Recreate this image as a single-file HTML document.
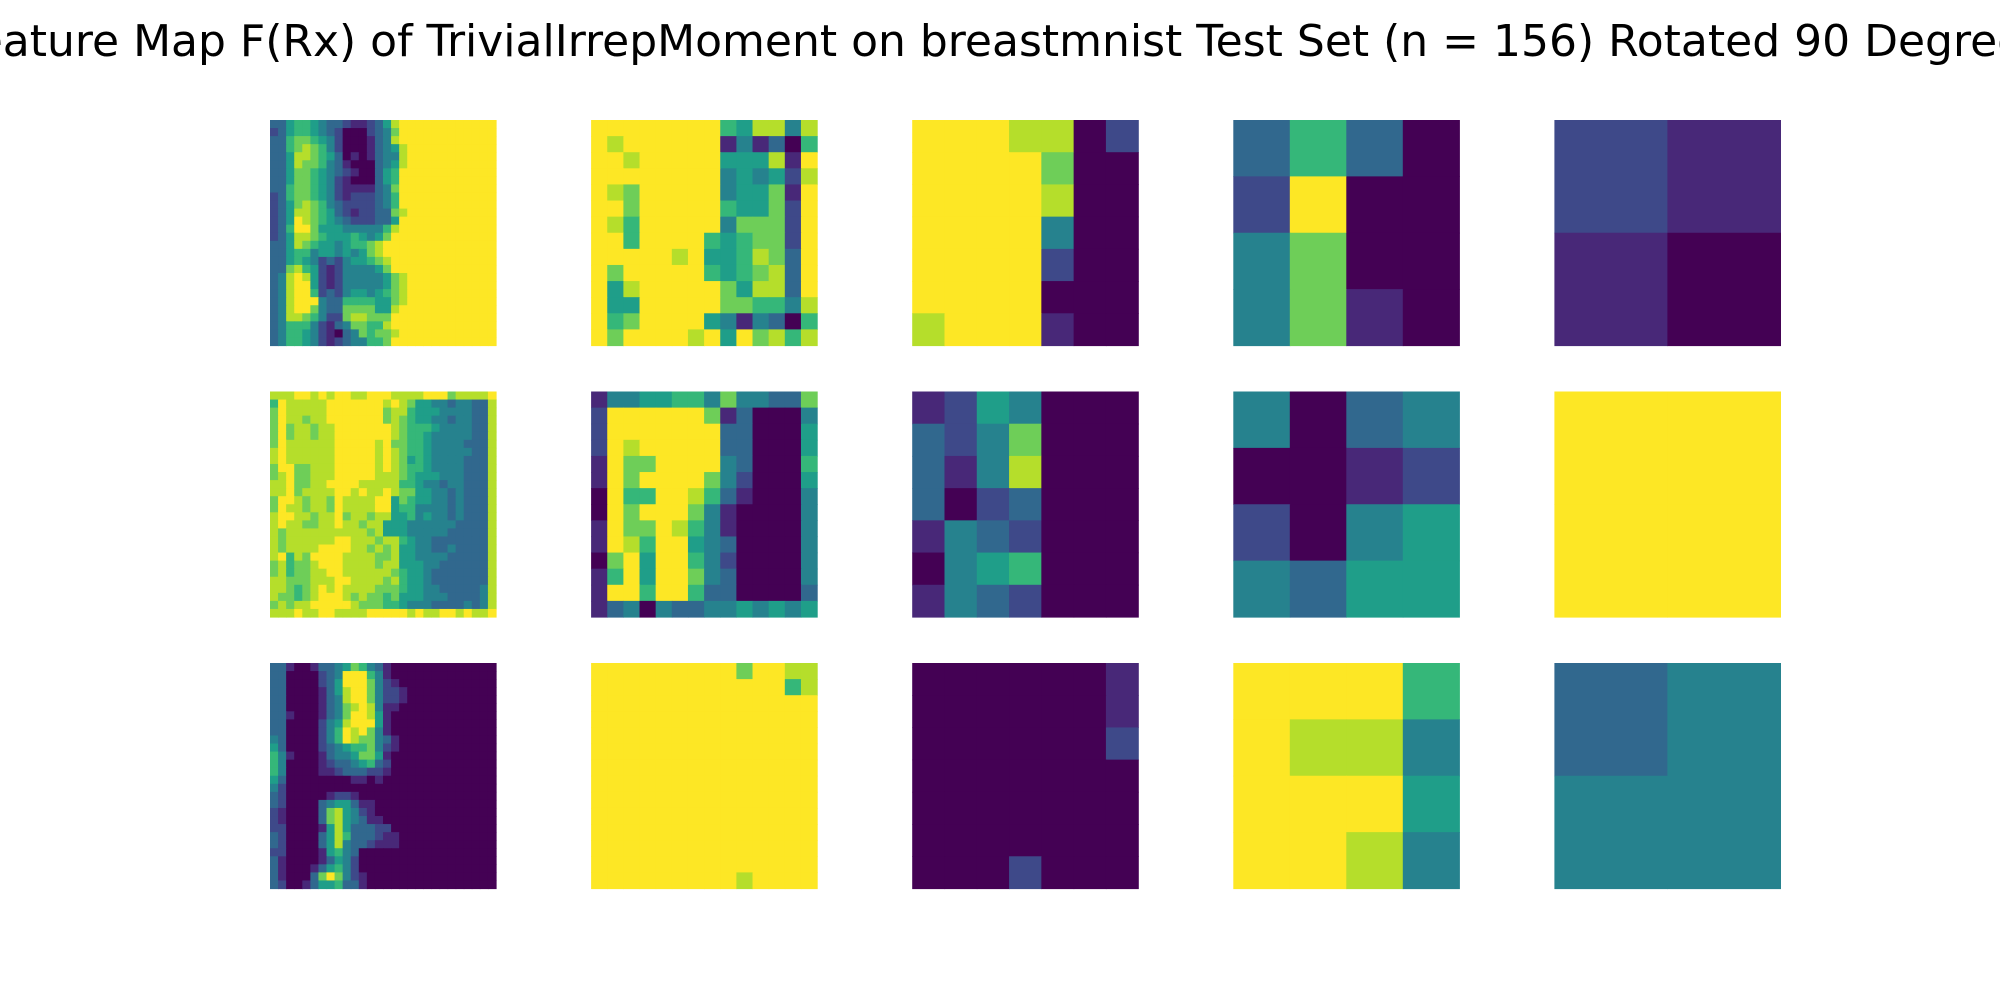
<!DOCTYPE html>
<html><head><meta charset="utf-8"><style>
html,body{margin:0;padding:0;background:#fff;width:2000px;height:1000px;overflow:hidden}
svg{display:block}
</style></head><body>
<svg id="fig" width="2000" height="1000" viewBox="0 0 2000 1000" xmlns="http://www.w3.org/2000/svg">
<rect width="2000" height="1000" fill="#fff"/>
<text x="1000" y="56" text-anchor="middle" font-family="DejaVu Sans, Liberation Sans, sans-serif" font-size="44" fill="#000">Feature Map F(Rx) of TrivialIrrepMoment on breastmnist Test Set (n = 156) Rotated 90 Degrees</text>
<g id="panels"></g>
</svg>
<script>
// Cell values on a 0..9 scale (viridis), row strings per panel
const p11 = ["3356654332112358999999999999","2356654320002347999999999999","3367765420001348999999999999","3367876420001345899999999999","3358876530101344899999999999","3358776431000345899999999999","3357765432100356999999999999","3357765421000356999999999999","3367765421111347999999999999","2367765421222346999999999999","2357876432222346999999999999","2358876532122337899999999999","2359876543222335999999999999","2369975554444468999999999999","2358876555654579999999999999","3358765545667899999999999999","3356645545457899999999999999","3356542324556789999999999999","3378652124444579999999999999","3489852124444457899999999999","3489952124444457899999999999","3489962324554567899999999999","3489994336666557899999999999","3489974337777558999999999999","3488764227887779999999999999","3466642134776689999999999999","3466542103476778999999999999","3466542123446679999999999999"];
const p21 = ["8889989899889998888999788889","6988888999999989875544344338","7988888999999978865554444338","7988788999999978765544344338","7978878899999998766654444338","7978878899999998766544444338","7988888899999897766544443338","8988888899999898766544444338","8988888899999898756544443338","7997788899999898766544443338","7897788899999888765554443338","8897788999988888665443443338","8897888899898898775544343338","7998788798888995765544343338","7988788798888995664444343338","8998878897887885564544343338","8988778898878855544444433338","8788888888887855544444333338","8788888899888788654433333338","8788889999887878554433433338","8968799998888778554444333338","7867789998888788555443333338","7867788998888887655433333338","8877788899888878655433333338","8876789898888777655443333348","8776789998787767555444333348","7878899999877766544433334348","8889889988889999989889989889"];
const p31 = ["3310013345764310000000000000","3300002349996410000000000000","3300002359997421000000000000","3300001358997422100000000000","3300001348997422100000000000","3300001347898411000000000000","3310001347998510000000000000","3300002458999510000000000000","3300002469897410000000000000","4300002469877431000000000000","5300002345667421000000000000","6410001344577510000000000000","6400001233456320000000000000","6400001123332210000000000000","5300000000110100000000000000","4200000000000000000000000000","3200000122100000000000000000","3200003455311000000000000000","2100003785421000000000000000","2100003785431100000000000000","2200001585333220000000000000","3200003586333211000000000000","3200003584332111000000000000","2200001564300000000000000000","3100001354200000000000000000","3100013564200000000000000000","3100037974210000000000000000","3200135563310000000000000000"];
const p12 = ["99999999658848","98999999141306","99899999555819","99999999454528","98799999455719","99799999655729","98699999477729","99699996567729","99999895568739","97999996567839","95899999758839","95599999776648","96799995414306","97999989597868"];
const p22 = ["14455664744337","29999997130004","29999999330005","29899999330005","19779999430006","19799997420005","09669986310004","09799974100004","19779864100004","19869954300004","07959964200004","16959974300004","19969963300003","13404334454545"];
const p32 = ["99999999979988","99999999999968","99999999999999","99999999999999","99999999999999","99999999999999","99999999999999","99999999999999","99999999999999","99999999999999","99999999999999","99999999999999","99999999999999","99999999989999"];
const p13 = ["9998802","9999700","9999800","9999400","9999200","9999000","8999100"];
const p23 = ["1254000","3247000","3148000","3023000","1432000","0456000","1432000"];
const p33 = ["0000001","0000001","0000002","0000000","0000000","0000000","0002000"];
const p14 = ["3630","2900","4700","4710"];
const p24 = ["4034","0012","2045","4355"];
const p34 = ["9996","9884","9995","9984"];
const p15 = ["21","10"];
const p25 = ["99","99"];
const p35 = ["34","44"];

const grid = [[p11,p12,p13,p14,p15],[p21,p22,p23,p24,p25],[p31,p32,p33,p34,p35]];
const stops = ["#440154","#482878","#3e4989","#31688e","#26828e","#1f9e89","#35b779","#6ece58","#b5de2b","#fde725"];
function color(v){ return stops[Math.max(0,Math.min(9,Math.round(v)))]; }
const colX = c => 270 + 321.1*c;
const rowY = r => 120 + 271.5*r;
const W = 226, H = 225.5;
const NS = "http://www.w3.org/2000/svg";
const root = document.getElementById('panels');
grid.forEach((row, r) => row.forEach((data, c) => {
  const g = document.createElementNS(NS,'g');
  
  
  const n = data.length, cw = W / data[0].length, ch = H / n;
  data.forEach((line, i) => {
    for (let j = 0; j < line.length; j++) {
      const rect = document.createElementNS(NS,'rect');
      
      
      rect.setAttribute('x', (colX(c) + j*cw).toFixed(2));
      rect.setAttribute('y', (rowY(r) + i*ch).toFixed(2));
      rect.setAttribute('width', (cw + 0.6).toFixed(2));
      rect.setAttribute('height', (ch + 0.6).toFixed(2));
      rect.setAttribute('fill', color(+line[j]));
      g.appendChild(rect);
    }
  });
  root.appendChild(g);
}));
</script>
</body></html>
